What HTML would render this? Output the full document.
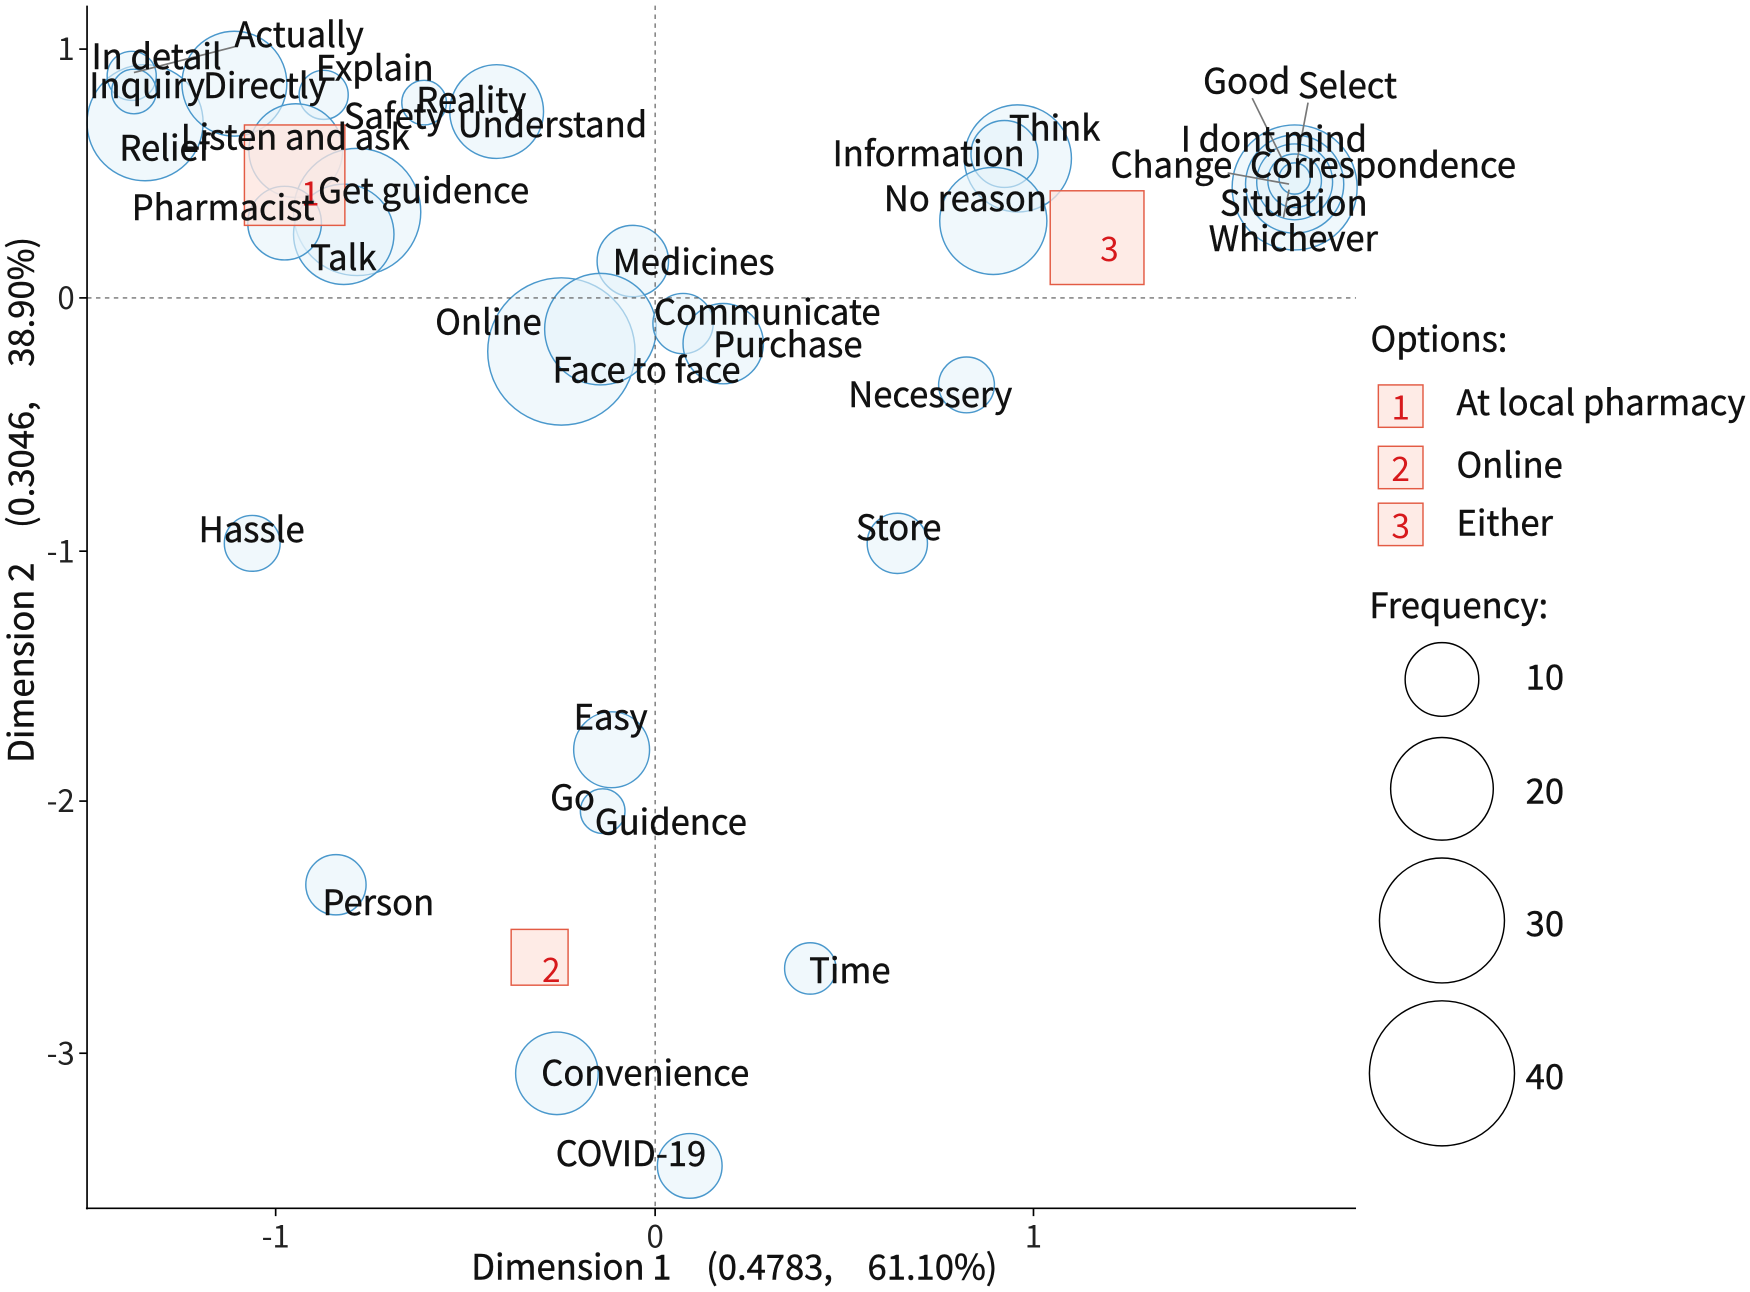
<!DOCTYPE html>
<html><head><meta charset="utf-8"><style>html,body{margin:0;padding:0;background:#fff}svg{display:block}</style></head>
<body>
<svg width="1750" height="1292" viewBox="0 0 1568 1158" preserveAspectRatio="none" xmlns="http://www.w3.org/2000/svg" font-family="'Noto Sans CJK JP', 'Liberation Sans', sans-serif">
<g fill="#e6f3fa" fill-opacity="0.6" stroke="#4a98cc" stroke-width="1.3">
<circle cx="130" cy="110" r="52"/>
<circle cx="210" cy="75" r="47"/>
<circle cx="118" cy="68" r="22"/>
<circle cx="120" cy="82" r="20"/>
<circle cx="290" cy="85" r="22"/>
<circle cx="380" cy="92" r="20"/>
<circle cx="445" cy="100" r="42"/>
<circle cx="265" cy="135" r="42"/>
<circle cx="320" cy="190" r="57"/>
<circle cx="308" cy="210" r="45"/>
<circle cx="255" cy="200" r="33"/>
<circle cx="912" cy="142" r="48"/>
<circle cx="900" cy="138" r="30"/>
<circle cx="890" cy="198" r="48"/>
<circle cx="1160" cy="168" r="56"/>
<circle cx="1160" cy="165" r="44"/>
<circle cx="1160" cy="163" r="34"/>
<circle cx="1160" cy="162" r="24"/>
<circle cx="1160" cy="160" r="14"/>
<circle cx="567" cy="234" r="32"/>
<circle cx="503" cy="315" r="66"/>
<circle cx="538" cy="295" r="50"/>
<circle cx="612" cy="290" r="27"/>
<circle cx="648" cy="308" r="36"/>
<circle cx="866" cy="345" r="25"/>
<circle cx="226" cy="487" r="25"/>
<circle cx="804" cy="487" r="27"/>
<circle cx="548" cy="672" r="34"/>
<circle cx="540" cy="727" r="20"/>
<circle cx="301" cy="793" r="27"/>
<circle cx="726" cy="868" r="23"/>
<circle cx="499" cy="962" r="37"/>
<circle cx="618" cy="1045" r="29"/>
</g>
<g stroke="#777" stroke-width="1.5" fill="none">
<line x1="120" y1="65" x2="210" y2="42"/>
<line x1="1122" y1="88" x2="1150" y2="145"/>
<line x1="1172" y1="92" x2="1162" y2="145"/>
<line x1="1100" y1="155" x2="1155" y2="165"/>
<line x1="1155" y1="170" x2="1150" y2="195"/>
</g>
<line x1="78" y1="267" x2="1215" y2="267" stroke="#555" stroke-dasharray="4,4" stroke-width="1"/>
<line x1="587" y1="5" x2="587" y2="1083" stroke="#555" stroke-dasharray="4,4" stroke-width="1"/>
<g fill="#fde4de" fill-opacity="0.75" stroke="#e35b44" stroke-width="1.3">
<rect x="219" y="112" width="90" height="90"/>
<rect x="941" y="171" width="84" height="84"/>
<rect x="458" y="833" width="51" height="50"/>
<rect x="1235" y="345" width="40" height="38"/>
<rect x="1235" y="400" width="40" height="38"/>
<rect x="1235" y="451" width="40" height="38"/>
</g>
<g fill="#d7191c" font-size="30" text-anchor="middle">
<text x="278" y="184">1</text><text x="994" y="234">3</text><text x="494" y="880">2</text>
<text x="1255" y="376">1</text><text x="1255" y="431">2</text><text x="1255" y="482">3</text>
</g>
<g fill="#111" font-size="31" stroke="#111" stroke-width="0.4">
<text x="82" y="62">In detail</text><text x="210" y="42">Actually</text>
<text x="80" y="88">Inquiry</text><text x="182" y="88">Directly</text>
<text x="283" y="72">Explain</text><text x="373" y="101">Reality</text>
<text x="308" y="115">Safety</text><text x="410" y="123">Understand</text>
<text x="107" y="144">Relief</text><text x="162" y="134">Listen and ask</text>
<text x="118" y="197">Pharmacist</text><text x="285" y="182">Get guidence</text>
<text x="278" y="242">Talk</text>
<text x="1078" y="84">Good</text><text x="1163" y="88">Select</text>
<text x="904" y="126">Think</text><text x="746" y="149">Information</text>
<text x="1058" y="136">I dont mind</text><text x="995" y="159">Change</text>
<text x="1120" y="159">Correspondence</text><text x="792" y="189">No reason</text>
<text x="1093" y="193">Situation</text><text x="1083" y="225">Whichever</text>
<text x="549" y="246">Medicines</text><text x="586" y="291">Communicate</text>
<text x="390" y="300">Online</text><text x="639" y="320">Purchase</text>
<text x="495" y="343">Face to face</text><text x="760" y="365">Necessery</text>
<text x="178" y="486">Hassle</text><text x="767" y="484">Store</text>
<text x="514" y="654">Easy</text><text x="493" y="726">Go</text>
<text x="533" y="748">Guidence</text><text x="289" y="820">Person</text>
<text x="725" y="881">Time</text><text x="485" y="973">Convenience</text>
<text x="498" y="1045">COVID-19</text>
<text x="1228" y="315">Options:</text>
<text x="1305" y="372">At local pharmacy</text>
<text x="1305" y="428">Online</text>
<text x="1305" y="480">Either</text>
<text x="1227" y="554">Frequency:</text>
<text x="1367" y="618">10</text><text x="1367" y="720">20</text>
<text x="1367" y="839">30</text><text x="1367" y="976">40</text>
</g>
<g fill="none" stroke="#000" stroke-width="1.3">
<circle cx="1292" cy="609" r="33"/><circle cx="1292" cy="707" r="46"/>
<circle cx="1292" cy="825" r="56"/><circle cx="1292" cy="962" r="65"/>
</g>
<g stroke="#000" stroke-width="1.5">
<line x1="78" y1="5" x2="78" y2="1084"/><line x1="77" y1="1083" x2="1215" y2="1083"/>
<line x1="247" y1="1083" x2="247" y2="1090"/><line x1="587" y1="1083" x2="587" y2="1090"/><line x1="926" y1="1083" x2="926" y2="1090"/>
<line x1="71" y1="44" x2="78" y2="44"/><line x1="71" y1="267" x2="78" y2="267"/><line x1="71" y1="494" x2="78" y2="494"/><line x1="71" y1="718" x2="78" y2="718"/><line x1="71" y1="944" x2="78" y2="944"/>
</g>
<g fill="#222" font-size="28">
<g text-anchor="middle"><text x="247" y="1118">-1</text><text x="587" y="1118">0</text><text x="926" y="1118">1</text></g>
<g text-anchor="end"><text x="67" y="54">1</text><text x="67" y="277">0</text><text x="67" y="504">-1</text><text x="67" y="728">-2</text><text x="67" y="954">-3</text></g>
</g>
<text x="658" y="1147" text-anchor="middle" font-size="31" fill="#111" stroke="#111" stroke-width="0.4">Dimension 1　(0.4783,　61.10%)</text>
<text transform="translate(30,448) rotate(-90)" text-anchor="middle" font-size="31" fill="#111" stroke="#111" stroke-width="0.4">Dimension 2　(0.3046,　38.90%)</text>
</svg>
</body></html>
